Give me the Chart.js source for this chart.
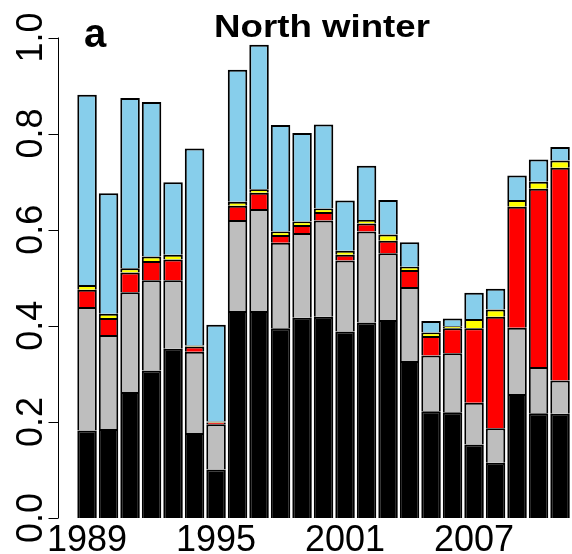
<!DOCTYPE html>
<html>
<head>
<meta charset="utf-8">
<script src="https://cdn.jsdelivr.net/npm/chart.js@4.4.1/dist/chart.umd.min.js"></script>
<style>
  body { margin: 0; background: #fff; }
  canvas { display: block; }
</style>
</head>
<body>
<canvas id="winterChart" width="572" height="554"></canvas>
<script>
// years on the x axis, only every 6th gets a label
const years = ['1989','1990','1991','1992','1993','1994','1995','1996','1997','1998','1999','2000',
               '2001','2002','2003','2004','2005','2006','2007','2008','2009','2010','2011'];
const yearTicks = ['1989', '1995', '2001', '2007'];
const yTicks = [0.0, 0.2, 0.4, 0.6, 0.8, 1.0];

// stacked components, bottom to top
const blackPart  = [0.182,0.185,0.262,0.307,0.352,0.177,0.101,0.431,0.431,0.395,0.417,0.419,0.388,0.407,0.412,0.327,0.222,0.220,0.153,0.115,0.258,0.218,0.217];
const greyPart   = [0.257,0.196,0.208,0.188,0.143,0.169,0.094,0.189,0.212,0.178,0.176,0.200,0.148,0.189,0.139,0.154,0.116,0.123,0.087,0.072,0.138,0.096,0.069];
const redPart    = [0.036,0.035,0.041,0.040,0.043,0.011,0.004,0.030,0.034,0.016,0.017,0.018,0.012,0.017,0.026,0.035,0.041,0.052,0.155,0.232,0.252,0.371,0.443];
const yellowPart = [0.010,0.009,0.009,0.009,0.010,0.002,0.002,0.008,0.007,0.007,0.007,0.007,0.008,0.007,0.013,0.007,0.007,0.004,0.019,0.015,0.014,0.015,0.015];
const bluePart   = [0.396,0.251,0.354,0.322,0.151,0.410,0.201,0.275,0.301,0.222,0.184,0.175,0.105,0.113,0.072,0.051,0.024,0.016,0.055,0.043,0.051,0.046,0.028];

const FONT = '"Liberation Sans", Arial, sans-serif';

function layer(data, color) {
    return {
        data: data,
        backgroundColor: color,
        borderColor: '#000',
        borderWidth: 2,
        borderSkipped: 'start',
        barPercentage: 0.907,
        categoryPercentage: 1.0
    };
}

// R-style axes, labels and titles drawn from the chart's scales
const axesPlugin = {
    id: 'rAxes',
    afterDraw(chart) {
        const ctx = chart.ctx;
        const x = chart.scales.x;
        const y = chart.scales.y;
        ctx.save();
        ctx.strokeStyle = '#000';
        ctx.fillStyle = '#000';
        ctx.lineWidth = 1;

        // y axis line + ticks
        const axisX = 58.5;
        ctx.beginPath();
        ctx.moveTo(axisX, y.getPixelForValue(0));
        ctx.lineTo(axisX, y.getPixelForValue(1));
        yTicks.forEach(v => {
            const py = Math.round(y.getPixelForValue(v)) + 0.5;
            ctx.moveTo(axisX, py);
            ctx.lineTo(axisX - 10, py);
        });
        ctx.stroke();

        // rotated y labels
        ctx.font = '36px ' + FONT;
        ctx.textAlign = 'center';
        ctx.textBaseline = 'alphabetic';
        yTicks.forEach(v => {
            ctx.save();
            ctx.translate(42, y.getPixelForValue(v));
            ctx.rotate(-Math.PI / 2);
            ctx.fillText(v.toFixed(1), 0, 0);
            ctx.restore();
        });

        // x labels
        yearTicks.forEach(lab => {
            const i = years.indexOf(lab);
            ctx.fillText(lab, x.getPixelForValue(i), 551);
        });

        // title (a bit wider than the font gives) and panel letter
        ctx.font = 'bold 32px ' + FONT;
        const tw = ctx.measureText('North winter').width;
        ctx.save();
        ctx.translate(322, 37);
        ctx.scale(216 / tw, 1);
        ctx.fillText('North winter', 0, 0);
        ctx.restore();
        ctx.textAlign = 'left';
        ctx.font = 'bold 40px ' + FONT;
        ctx.fillText('a', 84, 47);
        ctx.restore();
    }
};

const ctx = document.getElementById('winterChart').getContext('2d');
const winterChart = new Chart(ctx, {
    type: 'bar',
    data: {
        labels: years,
        datasets: [
            layer(blackPart, '#000000'),
            layer(greyPart, '#BEBEBE'),
            layer(redPart, '#FF0000'),
            layer(yellowPart, '#FFFF00'),
            layer(bluePart, '#87CEEB')
        ]
    },
    options: {
        responsive: false,
        devicePixelRatio: 1,
        animation: false,
        layout: {
            padding: { left: 76.3, right: 1.2, top: 37.5, bottom: 36 }
        },
        scales: {
            x: { stacked: true, display: false },
            y: { stacked: true, display: false, min: 0, max: 1 }
        },
        plugins: {
            legend: { display: false },
            tooltip: { enabled: false }
        }
    },
    plugins: [axesPlugin]
});
</script>
</body>
</html>
